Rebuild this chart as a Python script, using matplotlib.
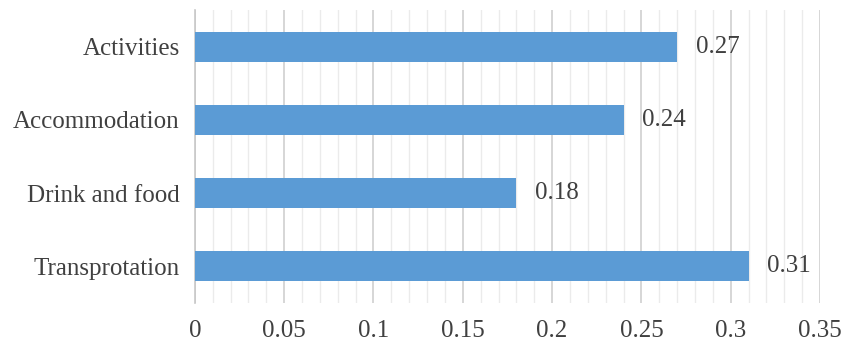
import matplotlib.pyplot as plt
import numpy as np

# données
categories = ["Transprotation", "Drink and food", "Accommodation", "Activities"]
values = [0.31, 0.18, 0.24, 0.27]
xticks = [0, 0.05, 0.1, 0.15, 0.2, 0.25, 0.3, 0.35]
xtick_labels = ["0", "0.05", "0.1", "0.15", "0.2", "0.25", "0.3", "0.35"]

plt.rcParams["font.family"] = ["Liberation Serif", "DejaVu Serif"]
text_color = "#404040"

fig = plt.figure(figsize=(8.51, 3.56), dpi=100)
ax = fig.add_axes([0.229, 0.149, 0.7346, 0.823])

y = np.arange(len(categories))
ax.barh(y, values, height=0.41, color="#5b9bd5", zorder=3)

for yi, v in zip(y, values):
    ax.text(v + 0.0105, yi, f"{v:.2f}", va="center", ha="left", fontsize=18, color=text_color)

ax.set_xlim(0, 0.35)
ax.set_ylim(-0.5, 3.5)
ax.set_xticks(xticks)
ax.set_xticklabels(xtick_labels)
ax.set_xticks(np.arange(0, 0.351, 0.01), minor=True)
ax.set_yticks(y)
ax.set_yticklabels(categories)

ax.grid(axis="x", which="major", color="#d0d0d0", linewidth=1.2, zorder=0)
ax.grid(axis="x", which="minor", color="#ebebeb", linewidth=1.0, zorder=0)

for s in ["top", "right", "bottom"]:
    ax.spines[s].set_visible(False)
ax.spines["left"].set_color("#c8c8c8")
ax.spines["left"].set_linewidth(1.2)

ax.tick_params(axis="both", which="both", length=0, labelsize=18, colors=text_color)
ax.tick_params(axis="x", pad=12)
ax.tick_params(axis="y", pad=11)

fig.savefig("out.png", dpi=100)
